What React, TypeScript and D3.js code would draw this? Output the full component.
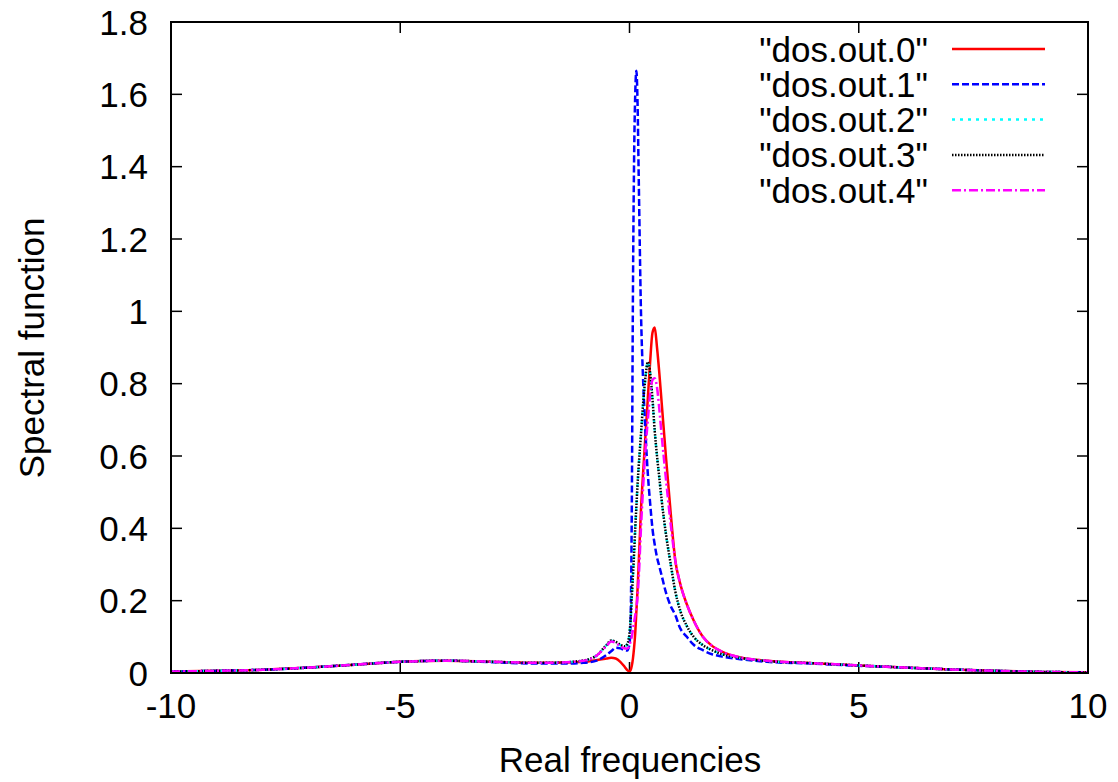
import React, { useEffect, useRef } from "react";
import * as d3 from "d3";

const W = 1118;
const H = 782;

// Real frequencies (shared grid)
const freqs = [-10, -9, -8, -7, -6, -5, -4, -3, -2, -1.5, -1, -0.7, -0.5, -0.4, -0.3, -0.2, -0.1, -0.05, 0, 0.025, 0.05, 0.075, 0.1, 0.125, 0.15, 0.175, 0.2, 0.25, 0.3, 0.35, 0.4, 0.45, 0.5, 0.55, 0.6, 0.65, 0.7, 0.8, 0.9, 1.0, 1.1, 1.25, 1.4, 1.6, 1.8, 2.0, 2.5, 3, 4, 5, 6, 7, 8, 9, 10];

const dos0 = [0.004, 0.006, 0.009, 0.015, 0.023, 0.031, 0.034, 0.031, 0.028, 0.029, 0.031,
  0.036, 0.040, 0.042, 0.040, 0.031, 0.016, 0.008, 0.004, 0.008, 0.02, 0.04, 0.07, 0.11, 0.17, 0.23, 0.30,
  0.45, 0.56, 0.66, 0.76, 0.86, 0.94, 0.955, 0.90, 0.83, 0.75, 0.59, 0.44, 0.31, 0.25, 0.19, 0.145, 0.10, 0.075, 0.06,
  0.041, 0.034, 0.027, 0.021, 0.015, 0.010, 0.006, 0.003, 0.002];

const dos1 = [0.004, 0.006, 0.009, 0.015, 0.023, 0.031, 0.034, 0.030, 0.026, 0.026, 0.028,
  0.035, 0.05, 0.06, 0.07, 0.068, 0.063, 0.062, 0.08, 0.15, 0.45, 1.05, 1.42, 1.60, 1.665, 1.58, 1.38,
  1.0, 0.80, 0.66, 0.55, 0.47, 0.40, 0.355, 0.32, 0.295, 0.27, 0.22, 0.185, 0.16, 0.125, 0.10, 0.078, 0.063, 0.052, 0.046,
  0.037, 0.031, 0.026, 0.020, 0.015, 0.010, 0.006, 0.003, 0.002];

const dos2 = [0.004, 0.006, 0.009, 0.015, 0.023, 0.031, 0.034, 0.031, 0.028, 0.029, 0.034,
  0.05, 0.077, 0.089, 0.085, 0.077, 0.073, 0.079, 0.11, 0.15, 0.21, 0.27, 0.33, 0.40, 0.46, 0.52, 0.57,
  0.66, 0.75, 0.82, 0.86, 0.83, 0.76, 0.67, 0.60, 0.54, 0.48, 0.38, 0.30, 0.225, 0.175, 0.13, 0.10, 0.077, 0.063, 0.053,
  0.040, 0.033, 0.027, 0.021, 0.015, 0.010, 0.006, 0.003, 0.002];

const dos3 = [0.004, 0.006, 0.009, 0.015, 0.023, 0.031, 0.034, 0.031, 0.028, 0.029, 0.035,
  0.05, 0.078, 0.09, 0.086, 0.078, 0.074, 0.08, 0.11, 0.15, 0.21, 0.27, 0.33, 0.40, 0.46, 0.52, 0.57,
  0.66, 0.75, 0.82, 0.86, 0.83, 0.76, 0.67, 0.60, 0.54, 0.48, 0.38, 0.30, 0.225, 0.175, 0.13, 0.10, 0.077, 0.063, 0.053,
  0.040, 0.033, 0.027, 0.021, 0.015, 0.010, 0.006, 0.003, 0.002];

const dos4 = [0.004, 0.006, 0.009, 0.015, 0.023, 0.031, 0.034, 0.031, 0.028, 0.029, 0.034,
  0.05, 0.075, 0.087, 0.083, 0.074, 0.068, 0.068, 0.075, 0.09, 0.10, 0.12, 0.14, 0.16, 0.18, 0.21, 0.26,
  0.40, 0.52, 0.62, 0.70, 0.77, 0.81, 0.815, 0.79, 0.73, 0.66, 0.53, 0.41, 0.31, 0.25, 0.19, 0.145, 0.10, 0.075, 0.06,
  0.041, 0.034, 0.027, 0.021, 0.015, 0.010, 0.006, 0.003, 0.002];

const seriesNames = ['"dos.out.0"', '"dos.out.1"', '"dos.out.2"', '"dos.out.3"', '"dos.out.4"'];
const seriesValues = [dos0, dos1, dos2, dos3, dos4];
const seriesColors = ["#ff0000", "#0000ff", "#00ffff", "#000000", "#ff00ff"];
const seriesDash = ["none", "7,3", "3,5", "1.5,1.5", "9,3,2,3"];

const xTicks = [-10, -5, 0, 5, 10];
const yTicks = [0, 0.2, 0.4, 0.6, 0.8, 1, 1.2, 1.4, 1.6, 1.8];

const xLabel = "Real frequencies";
const yLabel = "Spectral function";

export default function App() {
  const ref = useRef<SVGSVGElement | null>(null);

  useEffect(() => {
    const svg = d3.select(ref.current);
    svg.selectAll("*").remove();

    const left = 171, right = 1088, top = 22, bottom = 673;
    const x = d3.scaleLinear().domain([-10, 10]).range([left, right]);
    const y = d3.scaleLinear().domain([0, 1.8]).range([bottom, top]);
    const font = "'Liberation Sans', Arial, sans-serif";
    const fs = 35;

    svg.append("defs").append("clipPath").attr("id", "plotclip")
      .append("rect").attr("x", left).attr("y", top).attr("width", right - left).attr("height", bottom - top);

    const g = svg.append("g");
    const tickLen = 11;

    yTicks.forEach((t) => {
      const yy = y(t);
      g.append("line").attr("x1", left).attr("x2", left + tickLen).attr("y1", yy).attr("y2", yy)
        .attr("stroke", "#000").attr("stroke-width", 1.5);
      g.append("line").attr("x1", right).attr("x2", right - tickLen).attr("y1", yy).attr("y2", yy)
        .attr("stroke", "#000").attr("stroke-width", 1.5);
      g.append("text").attr("x", 148).attr("y", yy).attr("text-anchor", "end")
        .attr("dominant-baseline", "central").attr("font-family", font).attr("font-size", fs)
        .text(String(t));
    });
    xTicks.forEach((t) => {
      const xx = x(t);
      g.append("line").attr("x1", xx).attr("x2", xx).attr("y1", bottom).attr("y2", bottom - tickLen)
        .attr("stroke", "#000").attr("stroke-width", 1.5);
      g.append("line").attr("x1", xx).attr("x2", xx).attr("y1", top).attr("y2", top + tickLen)
        .attr("stroke", "#000").attr("stroke-width", 1.5);
      g.append("text").attr("x", xx).attr("y", 718).attr("text-anchor", "middle")
        .attr("font-family", font).attr("font-size", fs).text(String(t));
    });

    const line = d3.line<number>()
      .x((_, i) => x(freqs[i]))
      .y((d) => y(d))
      .curve(d3.curveMonotoneX);

    const curves = svg.append("g").attr("clip-path", "url(#plotclip)");
    seriesValues.forEach((vals, k) => {
      curves.append("path").attr("d", line(vals) || "")
        .attr("fill", "none").attr("stroke", seriesColors[k]).attr("stroke-width", 2.5)
        .attr("stroke-dasharray", seriesDash[k]).attr("stroke-linejoin", "round");
    });

    svg.append("rect").attr("x", left).attr("y", top).attr("width", right - left).attr("height", bottom - top)
      .attr("fill", "none").attr("stroke", "#000").attr("stroke-width", 2);

    seriesNames.forEach((name, k) => {
      const ly = 49 + k * 35.3;
      svg.append("text").attr("x", 928).attr("y", ly).attr("text-anchor", "end")
        .attr("dominant-baseline", "central").attr("font-family", font).attr("font-size", fs).text(name);
      svg.append("line").attr("x1", 952).attr("x2", 1045).attr("y1", ly).attr("y2", ly)
        .attr("stroke", seriesColors[k]).attr("stroke-width", 2.5).attr("stroke-dasharray", seriesDash[k]);
    });

    svg.append("text").attr("x", 630).attr("y", 772).attr("text-anchor", "middle")
      .attr("font-family", font).attr("font-size", fs).text(xLabel);
    svg.append("text").attr("transform", `translate(44,348) rotate(-90)`).attr("text-anchor", "middle")
      .attr("font-family", font).attr("font-size", fs).text(yLabel);
  }, []);

  return (
    <svg ref={ref} width={W} height={H} style={{ position: "absolute", left: 0, top: 0, background: "#fff" }} />
  );
}
